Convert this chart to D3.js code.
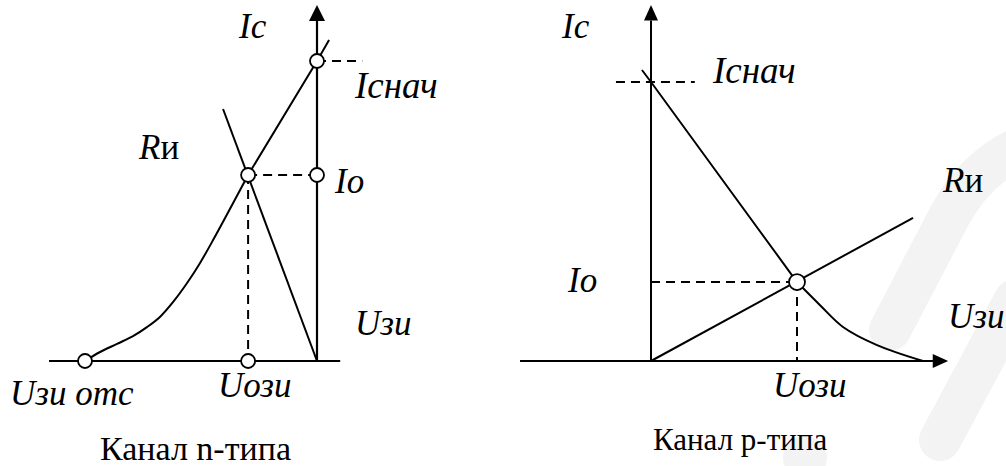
<!DOCTYPE html>
<html>
<head>
<meta charset="utf-8">
<script src="https://cdn.jsdelivr.net/npm/d3@7"></script>
<style>
  body { margin: 0; background: #fff; }
</style>
</head>
<body>
<div id="chart"></div>
<script>
// n-channel: transfer characteristic Ic(Uzi) (curved part, then straight part), load line Rи
const nTransfer = [[-10, 0], [-9.35, 0.3], [-8.62, 0.57], [-7.93, 0.83], [-7.33, 1.13],
                   [-6.77, 1.47], [-6.2, 1.97], [-5.6, 2.6], [-5.04, 3.27], [-4.48, 4.03],
                   [-2.97, 6.2], [0, 10], [0.52, 10.7]];
const nBend = 10; // index where the characteristic becomes straight
const nLoad = [[-4.05, 8.4], [0, 0]];
const nUots = -10, nUozi = -2.97, nIo = 6.2, nInach = 10;

// p-channel
const pTransfer = [[-0.62, 10.43], [0, 10], [10, 2.83], [11.58, 2.0], [13.15, 1.22],
                   [15.48, 0.57], [18.63, 0]];
const pBend = 2;
const pLoad = [[0, 0], [17.95, 5.13]];
const pUozi = 10, pIo = 2.83, pInach = 10;

const W = 1006, H = 466;
const svg = d3.select('#chart').append('svg')
    .attr('width', W).attr('height', H);

// watermark (very light grey, behind everything)
const wm = svg.append('g').attr('fill', 'none').attr('stroke', '#f3f3f3')
    .attr('stroke-linecap', 'round');
wm.append('path').attr('stroke-width', 42)
    .attr('d', 'M1015,150 Q975,170 950,215 L890,330');
wm.append('path').attr('stroke-width', 42)
    .attr('d', 'M1015,300 L940,440');
wm.append('circle').attr('cx', 805).attr('cy', 458).attr('r', 22)
    .attr('fill', '#f3f3f3').attr('stroke', 'none');

// left panel scales
const xn = d3.scaleLinear().domain([-10, 0]).range([85, 317]);
const yn = d3.scaleLinear().domain([0, 10]).range([361, 61]);
// right panel scales
const xp = d3.scaleLinear().domain([0, 10]).range([651, 797]);
const yp = d3.scaleLinear().domain([0, 10]).range([361, 82]);

const stroke = '#000';

function line(g, x, y, pts, opts = {}) {
    g.append('path')
        .datum(pts)
        .attr('d', d3.line().x(d => x(d[0])).y(d => y(d[1])).curve(opts.curve || d3.curveLinear))
        .attr('fill', 'none')
        .attr('stroke', stroke)
        .attr('stroke-width', opts.w || 2)
        .attr('stroke-linejoin', 'round')
        .attr('stroke-dasharray', opts.dash || null);
}

function dot(g, x, y, p, r) {
    g.append('circle')
        .attr('cx', x(p[0])).attr('cy', y(p[1])).attr('r', r || 7)
        .attr('fill', '#fff').attr('stroke', stroke).attr('stroke-width', 1.8);
}

// plain text element, no tspans
function label(g, px, py, txt, italic, size) {
    return g.append('text').attr('x', px).attr('y', py)
        .attr('font-size', size || 35)
        .attr('font-family', 'Liberation Serif')
        .attr('font-style', italic ? 'italic' : 'normal')
        .text(txt);
}
// "Rи": italic R followed by upright и
function labelR(g, px, py) {
    const r = label(g, px, py, 'R', true);
    const w = r.node().getComputedTextLength();
    label(g, px + w, py, 'и', false);
}

const dash = '9,6';

// ---- left: n-channel ----
const L = svg.append('g');
line(L, xn, yn, [[-11.55, 0], [1, 0]], { w: 2 });
line(L, xn, yn, [[0, 0], [0, 11.33]], { w: 2.2 });
L.append('path')
    .attr('d', `M${xn(0)},${yn(11.87)} L${xn(0) - 8},${yn(11.33)} L${xn(0) + 8},${yn(11.33)} Z`)
    .attr('fill', stroke);
line(L, xn, yn, [[0, nInach], [1.95, nInach]], { dash: dash });
line(L, xn, yn, [[nUozi, nIo], [0, nIo]], { dash: dash });
line(L, xn, yn, [[nUozi, nIo], [nUozi, 0]], { dash: dash });
line(L, xn, yn, nLoad, { w: 2 });
line(L, xn, yn, nTransfer.slice(0, nBend + 1), { w: 2, curve: d3.curveCatmullRom });
line(L, xn, yn, nTransfer.slice(nBend), { w: 2 });
dot(L, xn, yn, [0, nInach]);
dot(L, xn, yn, [nUozi, nIo]);
dot(L, xn, yn, [0, nIo]);
dot(L, xn, yn, [nUozi, 0]);
dot(L, xn, yn, [nUots, 0]);
label(L, 239, 38, 'Ic', true);
label(L, 355, 98, 'Iснач', true, 37);
labelR(L, 139, 159);
label(L, 335, 193, 'Io', true);
label(L, 355, 335, 'Uзи', true);
label(L, 10, 405, 'Uзи отс', true);
label(L, 218, 397, 'Uози', true);
label(L, 100, 460, 'Канал n-типа', false, 34);

// ---- right: p-channel ----
const R = svg.append('g');
line(R, xp, yp, [[-8.97, 0], [19.4, 0]], { w: 2 });
R.append('path')
    .attr('d', `M${xp(20.35)},${yp(0)} L${xp(19.3)},${yp(0) - 7} L${xp(19.3)},${yp(0) + 7} Z`)
    .attr('fill', stroke);
line(R, xp, yp, [[0, 0], [0, 12.2]], { w: 2 });
R.append('path')
    .attr('d', `M${xp(0)},${yp(12.76)} L${xp(0) - 7},${yp(12.2)} L${xp(0) + 7},${yp(12.2)} Z`)
    .attr('fill', stroke);
line(R, xp, yp, [[-2.4, pInach], [3.0, pInach]], { dash: dash });
line(R, xp, yp, [[0, pIo], [pUozi, pIo]], { dash: dash });
line(R, xp, yp, [[pUozi, pIo], [pUozi, 0]], { dash: dash });
line(R, xp, yp, pLoad, { w: 2 });
line(R, xp, yp, pTransfer.slice(0, pBend + 1), { w: 2 });
line(R, xp, yp, pTransfer.slice(pBend), { w: 2, curve: d3.curveCatmullRom });
dot(R, xp, yp, [pUozi, pIo], 8);
label(R, 562, 38, 'Ic', true);
label(R, 713, 83, 'Iснач', true, 37);
labelR(R, 943, 192);
label(R, 568, 292, 'Io', true);
label(R, 948, 328, 'Uзи', true);
label(R, 773, 397, 'Uози', true);
label(R, 653, 450, 'Канал р-типа', false, 31);
</script>
</body>
</html>
